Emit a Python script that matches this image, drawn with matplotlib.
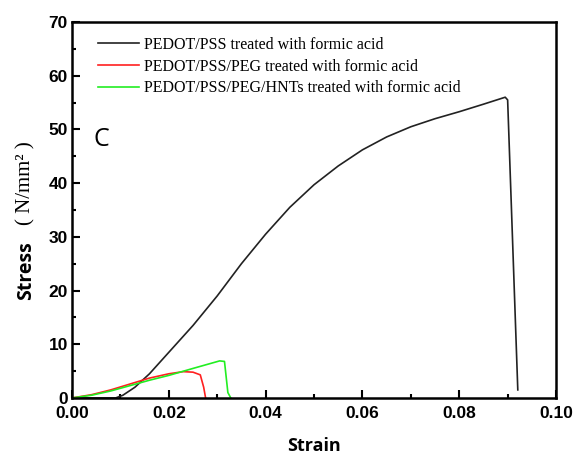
import matplotlib.pyplot as plt
from matplotlib.ticker import MultipleLocator

# stress-strain curves
strain_pss = [0.0, 0.009, 0.0105, 0.013, 0.016, 0.020, 0.025, 0.030, 0.035, 0.040,
              0.045, 0.050, 0.055, 0.060, 0.065, 0.070, 0.075, 0.080, 0.085, 0.0895,
              0.0900, 0.0921]
stress_pss = [0.0, 0.0, 0.5, 2.0, 4.5, 8.5, 13.5, 19.0, 25.0, 30.5,
              35.5, 39.7, 43.2, 46.2, 48.6, 50.5, 52.0, 53.3, 54.7, 56.0,
              55.5, 1.5]

strain_peg = [0.0, 0.004, 0.008, 0.012, 0.016, 0.020, 0.023, 0.025, 0.0265, 0.0272, 0.0276]
stress_peg = [0.0, 0.6, 1.5, 2.6, 3.7, 4.5, 4.9, 4.8, 4.3, 2.0, 0.0]

strain_hnt = [0.0, 0.004, 0.008, 0.012, 0.016, 0.020, 0.025, 0.0305, 0.0315, 0.0322, 0.0328]
stress_hnt = [0.0, 0.5, 1.3, 2.3, 3.3, 4.2, 5.5, 6.9, 6.8, 1.0, 0.0]

labels = ['PEDOT/PSS treated with formic acid',
          'PEDOT/PSS/PEG treated with formic acid',
          'PEDOT/PSS/PEG/HNTs treated with formic acid']

fig = plt.figure(figsize=(5.78, 4.59), dpi=100)
ax = fig.add_axes([0.1246, 0.133, 0.8374, 0.819])

ax.plot(strain_pss, stress_pss, color='#222222', lw=1.2, label=labels[0])
ax.plot(strain_peg, stress_peg, color='#ff2020', lw=1.2, label=labels[1])
ax.plot(strain_hnt, stress_hnt, color='#22ee22', lw=1.2, label=labels[2])

ax.set_xlim(0, 0.10)
ax.set_ylim(0, 70)
ax.xaxis.set_major_locator(MultipleLocator(0.02))
ax.xaxis.set_minor_locator(MultipleLocator(0.01))
ax.yaxis.set_major_locator(MultipleLocator(10))
ax.yaxis.set_minor_locator(MultipleLocator(5))
ax.tick_params(which='both', direction='in', width=1.5)
ax.tick_params(which='major', length=6)
ax.tick_params(which='minor', length=3)
ax.tick_params(axis='x', pad=6)
ax.tick_params(axis='y', pad=3)
for lbl in ax.get_xticklabels() + ax.get_yticklabels():
    lbl.set_family('Liberation Sans')
    lbl.set_fontweight('bold')
    lbl.set_fontsize(12.5)
for sp in ax.spines.values():
    sp.set_linewidth(1.8)

ax.set_xlabel('Strain', fontsize=13, fontweight='bold', family=['Open Sans', 'DejaVu Sans'],
              labelpad=11)
# y label: bold sans word + serif units
ax.text(-0.094, 0.26, 'Stress', rotation=90, ha='center', va='bottom', transform=ax.transAxes,
        fontsize=14, fontweight='bold', family=['Open Sans', 'DejaVu Sans'])
ax.text(-0.096, 0.46, '( N/mm² )', rotation=90, ha='center', va='bottom', transform=ax.transAxes,
        fontsize=15, family='Liberation Serif')

ax.text(0.0045, 47, 'C', fontsize=18, family=['Open Sans', 'DejaVu Sans'])

ax.legend(loc='upper left', frameon=False, prop={'family': 'Liberation Serif', 'size': 11.5},
          handlelength=2.6, handletextpad=0.3, labelspacing=0.35,
          borderaxespad=0.3, bbox_to_anchor=(0.03, 0.99))

fig.savefig('out.png', dpi=100)
